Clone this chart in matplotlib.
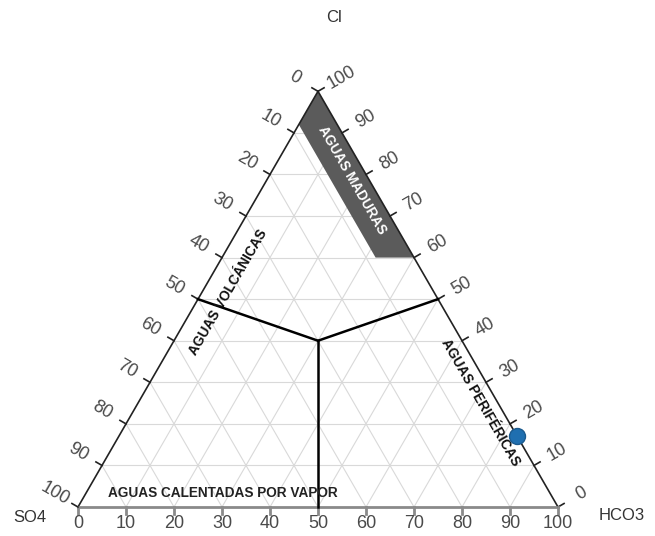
import numpy as np
import matplotlib
matplotlib.use("Agg")
import matplotlib.pyplot as plt
from matplotlib.patches import Polygon

plt.rcParams['font.family'] = ['Liberation Sans', 'DejaVu Sans']

# Ternary data (percent): Cl, SO4, HCO3
sample_cl = [17]
sample_so4 = [0]
sample_hco3 = [83]

# Field boundaries meet at this composition
junction = (40, 30, 30)  # Cl, SO4, HCO3
# "Aguas maduras" band: corners as (Cl, SO4, HCO3)
mature_band = [(100, 0, 0), (92, 8, 0), (60, 8, 32), (60, 0, 40)]

tick_values = list(range(0, 101, 10))

S3 = np.sqrt(3) / 2


def tern(cl, so4, hco3):
    tot = cl + so4 + hco3
    cl, hco3 = cl / tot, hco3 / tot
    return hco3 + cl / 2, cl * S3


fig = plt.figure(figsize=(6.55, 5.36), dpi=100)
ax = fig.add_axes([0, 0, 1, 1])
# 480 px per unit side, SO4 corner at px (78, 507)
ax.set_xlim(-78 / 480, (655 - 78) / 480)
ax.set_ylim(-29 / 480, (536 - 29) / 480)
ax.axis('off')

grid_kw = dict(color='#d9d9d9', lw=0.8, zorder=1)
for v in range(10, 100, 10):
    # constant Cl
    ax.plot(*zip(tern(v, 100 - v, 0), tern(v, 0, 100 - v)), **grid_kw)
    # constant SO4
    ax.plot(*zip(tern(0, v, 100 - v), tern(100 - v, v, 0)), **grid_kw)
    # constant HCO3
    ax.plot(*zip(tern(0, 100 - v, v), tern(100 - v, 0, v)), **grid_kw)

# mature waters band
band = Polygon([tern(*p) for p in mature_band], closed=True,
               facecolor='#5b5b5b', edgecolor='none', zorder=2)
ax.add_patch(band)

# triangle edges
A = tern(100, 0, 0)
B = tern(0, 100, 0)
C = tern(0, 0, 100)
ax.plot([B[0], A[0]], [B[1], A[1]], color='#222222', lw=1.2, zorder=3)
ax.plot([A[0], C[0]], [A[1], C[1]], color='#222222', lw=1.2, zorder=3)
ax.plot([B[0], C[0]], [B[1], C[1]], color='#8a8a8a', lw=2.0, zorder=3)

# field boundaries
J = tern(*junction)
for end in [tern(50, 50, 0), tern(50, 0, 50), tern(0, 50, 50)]:
    ax.plot([end[0], J[0]], [end[1], J[1]], color='black', lw=1.8, zorder=4)

# ticks and tick labels
tl = 7 / 480
lab = 27 / 480
tick_font = dict(fontsize=13, color='#4a4a4a', ha='center', va='center')
d_left = np.array([np.cos(np.radians(150)), np.sin(np.radians(150))])
d_right = np.array([np.cos(np.radians(30)), np.sin(np.radians(30))])
for v in tick_values:
    # left side: SO4
    p = np.array(tern(100 - v, v, 0))
    ax.plot(*zip(p, p + tl * d_left), color='#222222', lw=1.2, zorder=3)
    q = p + lab * d_left
    ax.text(q[0], q[1], str(v), rotation=-30, rotation_mode='anchor', **tick_font)
    # right side: Cl
    p = np.array(tern(v, 0, 100 - v))
    ax.plot(*zip(p, p + tl * d_right), color='#222222', lw=1.2, zorder=3)
    q = p + lab * d_right
    ax.text(q[0], q[1], str(v), rotation=30, rotation_mode='anchor', **tick_font)
    # bottom: HCO3
    p = np.array(tern(0, 100 - v, v))
    ax.plot([p[0], p[0]], [p[1], p[1] - tl], color='#8a8a8a', lw=2.0, zorder=3)
    ax.text(p[0], p[1] - 17 / 480, str(v), **tick_font)

# axis titles
title_kw = dict(fontsize=12, color='#333333', ha='center', va='center')
ax.text(256 / 480, (536 - 29 - 18) / 480, 'Cl', **title_kw)
ax.text(-48 / 480, -10 / 480, 'SO4', **title_kw)
ax.text(544 / 480, -8 / 480, 'HCO3', **title_kw)

# field labels
reg_kw = dict(fontsize=9.8, fontweight='bold', ha='center', va='center', zorder=5)
ax.text(274 / 480, (507 - 180) / 480, 'AGUAS MADURAS', rotation=-60,
        color='white', **reg_kw)
ax.text(150 / 480, (507 - 292) / 480, 'AGUAS VOLCÁNICAS', rotation=60,
        color='#111111', **reg_kw)
ax.text(403 / 480, (507 - 402) / 480, 'AGUAS PERIFÉRICAS', rotation=-60,
        color='#111111', **reg_kw)
ax.text(145 / 480, (507 - 493) / 480, 'AGUAS CALENTADAS POR VAPOR',
        color='#222222', **reg_kw)

# samples
xs, ys = zip(*[tern(c, s, h) for c, s, h in zip(sample_cl, sample_so4, sample_hco3)])
ax.plot(xs, ys, 'o', ms=11.5, color='#1f6fb0', mec='#1b5a8e', mew=1.0, zorder=6)

fig.savefig('out.png', dpi=100)
